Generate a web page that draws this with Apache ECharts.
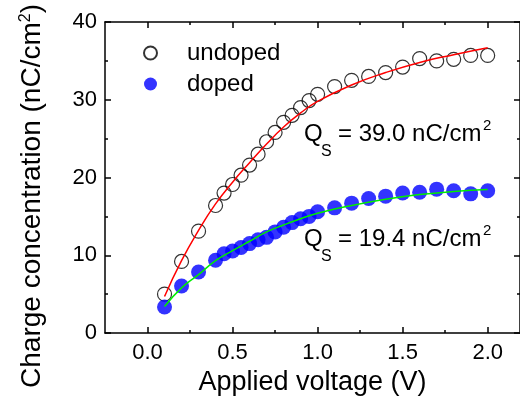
<!DOCTYPE html>
<html>
<head>
<meta charset="utf-8">
<script src="https://cdn.jsdelivr.net/npm/echarts@6/dist/echarts.min.js"></script>
<style>
  html, body { margin: 0; padding: 0; background: #fff; }
  #chart { width: 520px; height: 410px; }
</style>
</head>
<body>
<div id="chart"></div>
<script>
// measured points
var voltage = [0.1, 0.2, 0.3, 0.4, 0.45, 0.5, 0.55, 0.6, 0.65, 0.7, 0.75, 0.8, 0.85, 0.9, 0.95, 1.0,
               1.1, 1.2, 1.3, 1.4, 1.5, 1.6, 1.7, 1.8, 1.9, 2.0];
var undoped = [5.0, 9.2, 13.1, 16.4, 18.0, 19.1, 20.3, 21.6, 23.0, 24.6, 25.8, 27.1, 28.0, 29.0, 29.9, 30.7,
               31.7, 32.5, 33.0, 33.5, 34.2, 35.3, 35.0, 35.2, 35.7, 35.7];
var doped = [3.35, 6.05, 7.85, 9.36, 10.2, 10.55, 11.0, 11.5, 12.0, 12.3, 13.0, 13.6, 14.2, 14.7, 15.0, 15.6,
             16.1, 16.7, 17.3, 17.6, 18.0, 18.1, 18.5, 18.3, 17.9, 18.3];

// fitted curves
var fitVoltage = [0.1, 0.2, 0.3, 0.4, 0.5, 0.6, 0.7, 0.8, 0.9, 1.0, 1.2, 1.4, 1.6, 1.8, 2.0];
var undopedFit = [4.7, 9.3, 13.2, 16.6, 19.4, 21.9, 24.3, 26.5, 28.3, 29.8, 31.9, 33.5, 34.8, 35.8, 36.7];
var dopedFit = [3.4, 5.8, 7.5, 9.3, 10.6, 11.8, 13.0, 13.9, 14.7, 15.4, 16.4, 17.2, 17.8, 18.2, 18.45];

var xMajorTicks = [0, 0.5, 1.0, 1.5, 2.0];
var xMinorTicks = [0.25, 0.75, 1.25, 1.75];

var font = 'Liberation Sans, Arial, sans-serif';

function zip(xs, ys) {
    return xs.map(function (x, i) { return [x, ys[i]]; });
}

// Q_S annotation made of separate pieces so sub/superscripts sit right
function qsLabel(value, y) {
    var base = { fill: '#000', fontFamily: font };
    return [
        { type: 'text', left: 304, top: y - 12, style: Object.assign({ text: 'Q', fontSize: 24 }, base), z: 10 },
        { type: 'text', left: 321, top: y + 9, style: Object.assign({ text: 'S', fontSize: 16 }, base), z: 10 },
        { type: 'text', left: 338, top: y - 12, style: Object.assign({ text: '= ' + value + ' nC/cm', fontSize: 24 }, base), z: 10 },
        { type: 'text', left: 483, top: y - 16, style: Object.assign({ text: '2', fontSize: 15 }, base), z: 10 }
    ];
}

var chart = echarts.init(document.getElementById('chart'));

var tickStyle = { color: '#000', width: 1.5 };
var lineStyle = { color: '#000', width: 1.5 };

var option = {
    animation: false,
    backgroundColor: '#fff',
    grid: { left: 105, right: -1, top: 22, bottom: 77 },
    legend: {
        data: ['undoped', 'doped'],
        orient: 'vertical',
        left: 138,
        top: 36,
        itemWidth: 13,
        itemHeight: 13,
        itemGap: 7,
        icon: 'circle',
        textStyle: { fontSize: 24, color: '#000', fontFamily: font, padding: [0, 0, 0, 25] }
    },
    xAxis: [
        {
            type: 'value', min: -0.25, max: 2.19, position: 'bottom',
            axisLine: { show: true, onZero: false, lineStyle: lineStyle },
            axisTick: { show: true, inside: true, length: 6, lineStyle: tickStyle, customValues: xMajorTicks },
            axisLabel: {
                customValues: xMajorTicks, fontSize: 22, color: '#000', fontFamily: font, margin: 9,
                formatter: function (v) { return v.toFixed(1); }
            },
            splitLine: { show: false },
            name: 'Applied voltage (V)',
            nameLocation: 'middle',
            nameGap: 36,
            nameTextStyle: { fontSize: 27, color: '#000', fontFamily: font }
        },
        {
            type: 'value', min: -0.25, max: 2.19, position: 'bottom',
            axisLine: { show: false, onZero: false },
            axisTick: { show: true, inside: true, length: 3, lineStyle: tickStyle, customValues: xMinorTicks },
            axisLabel: { show: false },
            splitLine: { show: false }
        },
        {
            type: 'value', min: -0.25, max: 2.19, position: 'top',
            axisLine: { show: true, onZero: false, lineStyle: lineStyle },
            axisTick: { show: true, inside: true, length: 6, lineStyle: tickStyle, customValues: xMajorTicks },
            axisLabel: { show: false },
            splitLine: { show: false }
        },
        {
            type: 'value', min: -0.25, max: 2.19, position: 'top',
            axisLine: { show: false, onZero: false },
            axisTick: { show: true, inside: true, length: 3, lineStyle: tickStyle, customValues: xMinorTicks },
            axisLabel: { show: false },
            splitLine: { show: false }
        }
    ],
    yAxis: [
        {
            type: 'value', min: 0, max: 40, interval: 10, position: 'left',
            axisLine: { show: true, onZero: false, lineStyle: lineStyle },
            axisTick: { show: true, inside: true, length: 6, lineStyle: tickStyle },
            minorTick: { show: true, splitNumber: 2, length: 3, lineStyle: tickStyle },
            axisLabel: { fontSize: 22, color: '#000', fontFamily: font, margin: 8 },
            splitLine: { show: false }
        },
        {
            type: 'value', min: 0, max: 40, interval: 10, position: 'right',
            axisLine: { show: true, onZero: false, lineStyle: lineStyle },
            axisTick: { show: true, inside: true, length: 6, lineStyle: tickStyle },
            minorTick: { show: true, splitNumber: 2, length: 3, lineStyle: tickStyle },
            axisLabel: { show: false },
            splitLine: { show: false }
        }
    ],
    graphic: [
        {
            type: 'text',
            x: 32, y: 196,
            rotation: Math.PI / 2,
            style: {
                text: 'Charge concentration (nC/cm{sup|2})',
                fontSize: 28, fill: '#000', fontFamily: font,
                align: 'center', verticalAlign: 'middle',
                rich: { sup: { fontSize: 16, verticalAlign: 'top', fontFamily: font } }
            }
        }
    ].concat(qsLabel('39.0', 134.5), qsLabel('19.4', 239.5)),
    series: [
        {
            name: 'undoped', type: 'scatter',
            data: zip(voltage, undoped),
            symbol: 'circle', symbolSize: 14,
            itemStyle: { color: 'transparent', borderColor: '#000', borderWidth: 1.2 },
            z: 2
        },
        {
            name: 'doped', type: 'scatter',
            data: zip(voltage, doped),
            symbol: 'circle', symbolSize: 15,
            itemStyle: { color: '#0000ff' },
            z: 2
        },
        {
            name: 'undoped fit', type: 'line',
            data: zip(fitVoltage, undopedFit),
            smooth: true, showSymbol: false,
            lineStyle: { color: '#ff0000', width: 1.5 },
            z: 3
        },
        {
            name: 'doped fit', type: 'line',
            data: zip(fitVoltage, dopedFit),
            smooth: true, showSymbol: false,
            lineStyle: { color: '#00ee00', width: 1.5 },
            z: 3
        }
    ]
};

chart.setOption(option);
</script>
</body>
</html>
